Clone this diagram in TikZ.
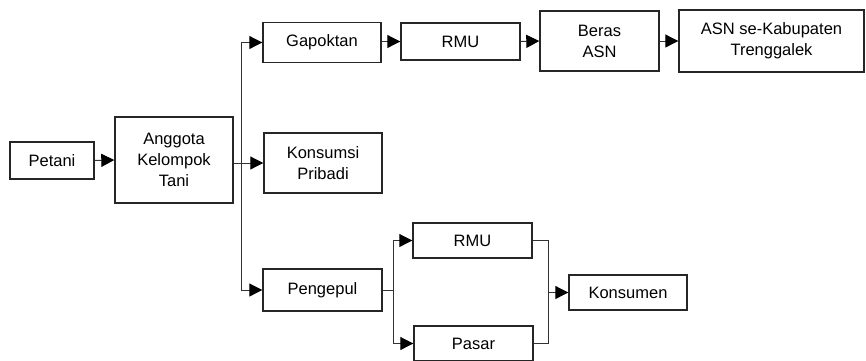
\documentclass[tikz,border=0pt]{standalone}
\usepackage{fontspec}
\setmainfont{Liberation Sans}
\usetikzlibrary{arrows.meta}
\begin{document}
\begin{tikzpicture}[x=1pt,y=-1pt,
  box/.style={draw=black!85, line width=1.4pt, fill=white, inner sep=0pt, align=center,
    font=\fontsize{16.5}{21}\selectfont, text=black},
  conn/.style={draw=black!80, line width=1pt},
  arr/.style={conn, -{Triangle[length=13pt,width=13pt,color=black]}}]
\useasboundingbox (0,0) rectangle (866,360);
\clip (0,0) rectangle (866,360);
\node[box, minimum width=84pt, minimum height=37pt] (petani) at (52,160.5) {Petani};
\node[box, minimum width=118pt, minimum height=86pt] (anggota) at (174,160) {Anggota\\Kelompok\\Tani};
\node[box, minimum width=118pt, minimum height=40pt] (gapoktan) at (322,42.5) {Gapoktan};
\node[box, minimum width=119pt, minimum height=37pt] (rmua) at (460.5,41.5) {RMU};
\node[box, minimum width=119pt, minimum height=60pt] (beras) at (599.5,41) {Beras\\ASN};
\node[box, minimum width=185pt, minimum height=62pt] (asn) at (771.5,41) {ASN se-Kabupaten\\Trenggalek};
\node[box, minimum width=118pt, minimum height=60pt] (konsumsi) at (323,163) {Konsumsi\\Pribadi};
\node[box, minimum width=119pt, minimum height=42pt] (pengepul) at (322.5,290) {Pengepul};
\node[box, minimum width=119pt, minimum height=35pt] (rmub) at (472.5,240.5) {RMU};
\node[box, minimum width=119pt, minimum height=35pt] (pasar) at (473.5,343.5) {Pasar};
\node[box, minimum width=118pt, minimum height=35pt] (konsumen) at (628,292.5) {Konsumen};
\coordinate (b1) at (241,163);
\coordinate (b2) at (393,290);
\coordinate (m) at (548,292.5);
% Petani -> Anggota
\draw[arr] (petani.east) -- (anggota.west);
% Anggota branch
\draw[conn] (konsumsi.west -| anggota.east) -- (b1);
\draw[conn] (b1 |- gapoktan.west) -- (b1 |- pengepul.west);
\draw[arr] (b1 |- gapoktan.west) -- (gapoktan.west);
\draw[arr] (b1) -- (konsumsi.west);
\draw[arr] (b1 |- pengepul.west) -- (pengepul.west);
% top chain
\draw[arr] (gapoktan.east |- rmua.west) -- (rmua.west);
\draw[arr] (rmua.east) -- (beras.west);
\draw[arr] (beras.east) -- (asn.west);
% Pengepul branch
\draw[conn] (pengepul.east) -- (b2);
\draw[conn] (b2 |- rmub.west) -- (b2 |- pasar.west);
\draw[arr] (b2 |- rmub.west) -- (rmub.west);
\draw[arr] (b2 |- pasar.west) -- (pasar.west);
% merge
\draw[conn] (rmub.east) -- (m |- rmub.east) -- (m |- pasar.east) -- (pasar.east);
\draw[arr] (m) -- (konsumen.west);
\end{tikzpicture}
\end{document}
